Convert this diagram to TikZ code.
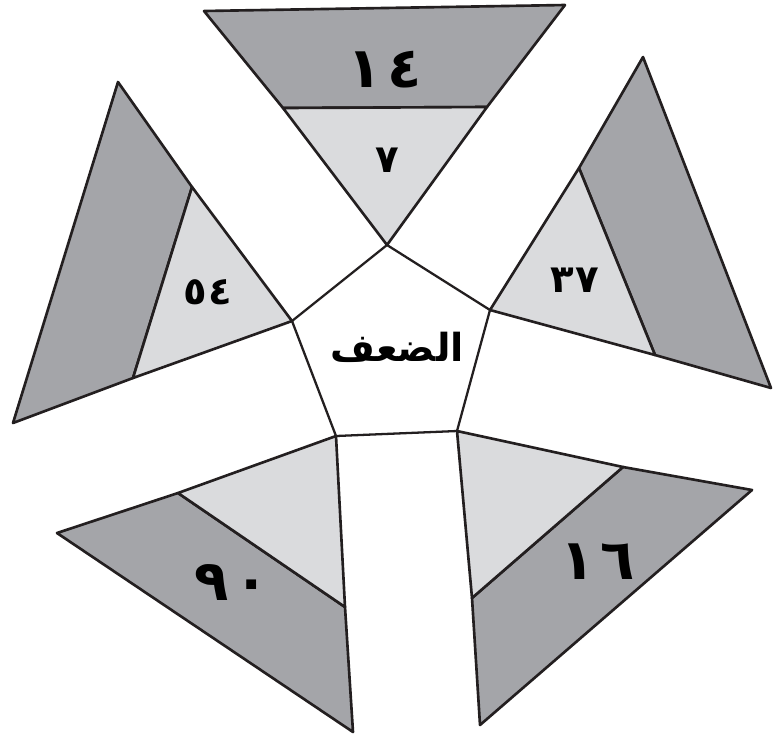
\documentclass[tikz,border=0pt]{standalone}
\usepackage{fontspec}
\usepackage{xcolor}
\TeXXeTstate=1
\newfontfamily\arabicfont[Script=Arabic]{DejaVu Sans}
\definecolor{darkpart}{RGB}{164,165,169}
\definecolor{lightpart}{RGB}{218,219,221}
\definecolor{edge}{RGB}{35,31,32}

\begin{document}
\begin{tikzpicture}[
            x=.02cm, y=-.02cm,
            dark/.style={fill=darkpart, draw=edge, line width=1.5pt, line join=round},
            light/.style={fill=lightpart, draw=edge, line width=1.5pt, line join=round},
            rim/.style={draw=edge, line width=1.3pt},
            big/.style={font=\arabicfont\bfseries\fontsize{32}{36}\selectfont},
            small/.style={font=\arabicfont\bfseries\fontsize{22}{26}\selectfont},
            word/.style={font=\arabicfont\bfseries\fontsize{22}{26}\selectfont},
        ]
            \useasboundingbox (0, 0) rectangle (773, 735);

            %% corners of the middle pentagon
            \coordinate (p1) at (387, 245);
            \coordinate (p2) at (292, 321);
            \coordinate (p3) at (490, 310);
            \coordinate (p4) at (336, 436);
            \coordinate (p5) at (457, 431);

            %% outer corners and the cut points of the five triangles
            \coordinate (t1) at (204, 11);  \coordinate (t2) at (565, 5);
            \coordinate (t3) at (283, 108); \coordinate (t4) at (487, 107);
            \coordinate (l1) at (118, 82);  \coordinate (l2) at (13, 423);
            \coordinate (l3) at (192, 187); \coordinate (l4) at (133, 378);
            \coordinate (r1) at (643, 57);  \coordinate (r2) at (771, 388);
            \coordinate (r3) at (579, 168); \coordinate (r4) at (655, 355);
            \coordinate (b1) at (57, 533);  \coordinate (b2) at (353, 732);
            \coordinate (b3) at (178, 493); \coordinate (b4) at (345, 607);
            \coordinate (c1) at (752, 490); \coordinate (c2) at (480, 725);
            \coordinate (c3) at (623, 467); \coordinate (c4) at (472, 598);

            \draw[dark] (t1) -- (t2) -- (t4) -- (t3) -- cycle;
            \draw[light] (t3) -- (t4) -- (p1) -- cycle;
            \draw[dark] (l1) -- (l3) -- (l4) -- (l2) -- cycle;
            \draw[light] (l3) -- (p2) -- (l4) -- cycle;
            \draw[dark] (r1) -- (r2) -- (r4) -- (r3) -- cycle;
            \draw[light] (r3) -- (r4) -- (p3) -- cycle;
            \draw[dark] (b1) -- (b3) -- (b4) -- (b2) -- cycle;
            \draw[light] (b3) -- (p4) -- (b4) -- cycle;
            \draw[dark] (c3) -- (c1) -- (c2) -- (c4) -- cycle;
            \draw[light] (p5) -- (c3) -- (c4) -- cycle;

            \draw[rim] (p1) -- (p3) -- (p5) -- (p4) -- (p2) -- cycle;

            \node[big] (n14) at (385, 70) {١\hspace{.1em}٤};
            \node[small] (n7) at (387, 160) {٧};
            \node[small] (n54) at (208, 292) {٥\hspace{.05em}٤};
            \node[small] (n37) at (575, 280) {٣\hspace{.05em}٧};
            \node[big] (n90) at (232, 582) {٩\hspace{.1em}٠};
            \node[big] (n16) at (598, 562) {١\hspace{.1em}٦};
            \node[word] (centre) at (397, 347) {\beginR الضعف\endR};
        \end{tikzpicture}
\end{document}
